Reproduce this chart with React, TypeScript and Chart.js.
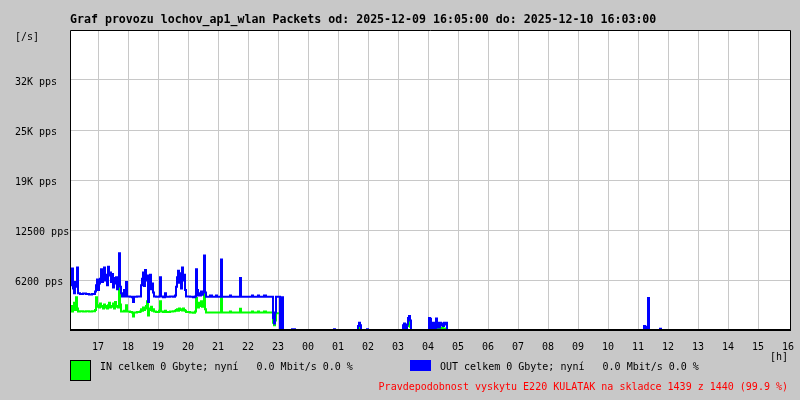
import React, { useEffect, useRef } from "react";
import { Chart, registerables } from "chart.js";

Chart.register(...registerables);

const TITLE = "Graf provozu lochov_ap1_wlan Packets od: 2025-12-09 16:05:00 do: 2025-12-10 16:03:00";
const Y_UNIT = "[/s]";
const X_UNIT = "[h]";
const IN_LEGEND = "IN celkem 0 Gbyte; nyní   0.0 Mbit/s 0.0 %";
const OUT_LEGEND = "OUT celkem 0 Gbyte; nyní   0.0 Mbit/s 0.0 %";
const FOOTER = "Pravdepodobnost vyskytu E220 KULATAK na skladce 1439 z 1440 (99.9 %)";

// time in minutes since 2025-12-09 16:00; each value holds until the next time
const times = [
  4, 6, 8, 10, 12, 14, 16, 18, 20, 24, 30, 36, 42, 48, 54, 56, 58, 60, 62, 64,
  66, 68, 70, 72, 74, 76, 78, 80, 82, 84, 86, 88, 90, 92, 94, 96, 98, 100, 102, 104,
  106, 108, 112, 114, 116, 118, 124, 128, 130, 132, 138, 144, 146, 148, 150, 152, 154, 156, 158, 160,
  162, 164, 166, 168, 170, 172, 176, 182, 184, 186, 190, 194, 196, 204, 210, 214, 216, 218, 220, 222,
  224, 226, 228, 230, 232, 234, 236, 244, 250, 254, 256, 258, 260, 262, 264, 266, 268, 270, 272, 274,
  276, 284, 288, 296, 298, 306, 308, 324, 326, 344, 346, 368, 370, 380, 382, 392, 396, 410, 412, 414,
  416, 424, 428, 430, 448, 454, 532, 534, 580, 582, 584, 586, 598, 600, 670, 672, 674, 678, 680, 682,
  684, 686, 722, 724, 726, 728, 730, 732, 736, 738, 740, 744, 746, 748, 750, 752, 754, 756, 758, 1152,
  1154, 1156, 1160, 1162, 1184, 1186, 1444,
];

const inPps = [
  2600, 3000, 2300, 2800, 3400, 2500, 4100, 2700, 2300, 2350, 2300, 2350, 2300, 2350, 2500, 4100, 2900, 3100, 2800, 3300,
  2900, 3000, 2700, 3200, 2800, 3000, 2700, 3100, 3400, 2800, 3000, 2900, 3300, 2700, 3500, 2900, 3000, 2800, 5200, 3200,
  2300, 2300, 2400, 2300, 3100, 2300, 2250, 2200, 1700, 2200, 2250, 2300, 2600, 2400, 2800, 2500, 2700, 3000, 3600, 1800,
  2700, 2500, 2900, 2400, 2600, 2300, 2250, 2400, 3600, 2300, 2250, 2400, 2250, 2300, 2350, 2400, 2500, 2600, 2400, 2700,
  2500, 2600, 2450, 2700, 2500, 2400, 2250, 2200, 2150, 2300, 4000, 3300, 2800, 3400, 3000, 3600, 2900, 3300, 4600, 2600,
  2200, 2200, 2200, 2200, 2200, 4000, 2200, 2300, 2200, 2650, 2200, 2300, 2200, 2300, 2200, 2300, 2200, 900, 600, 1200,
  2100, 400, 300, 0, 0, 0, 0, 0, 300, 500, 200, 0, 0, 0, 200, 400, 0, 500, 1100, 800,
  400, 0, 0, 200, 0, 100, 200, 0, 700, 300, 0, 200, 100, 300, 0, 200, 0, 100, 0, 0,
  300, 0, 500, 0, 0, 0, 0,
];

const outPps = [
  5600, 6800, 7700, 5200, 4600, 6000, 5400, 7800, 4600, 4500, 4550, 4500, 4450, 4500, 4800, 5600, 6300, 5000, 5800, 6400,
  7600, 6000, 7400, 7800, 6200, 6900, 5600, 7900, 6800, 7200, 6000, 7000, 5300, 6500, 5800, 6600, 5100, 5600, 9600, 5400,
  4600, 4200, 5000, 4200, 6000, 4200, 4150, 4100, 3500, 4150, 4200, 4200, 5600, 6400, 7200, 5500, 7500, 6200, 6800, 3500,
  5800, 6900, 5100, 5800, 4700, 4200, 4150, 4200, 6600, 4200, 4100, 4600, 4150, 4200, 4150, 4300, 5400, 6600, 7400, 5900,
  7100, 5200, 7800, 6200, 6900, 5000, 4200, 4150, 4100, 4200, 7600, 5000, 4300, 4600, 4300, 4800, 4400, 4700, 9300, 4700,
  4170, 4300, 4170, 4300, 4170, 8800, 4170, 4300, 4170, 6500, 4170, 4300, 4170, 4300, 4170, 4300, 4170, 1500, 800, 2200,
  4170, 0, 4100, 0, 100, 0, 100, 0, 500, 900, 600, 0, 100, 0, 600, 800, 0, 700, 1500, 1750,
  1200, 0, 1500, 1400, 0, 500, 900, 0, 1450, 900, 300, 900, 600, 800, 500, 900, 700, 900, 0, 500,
  400, 0, 4000, 0, 150, 0, 0,
];

const xTickMinutes = [60, 120, 180, 240, 300, 360, 420, 480, 540, 600, 660, 720, 780, 840, 900, 960, 1020, 1080, 1140, 1200, 1260, 1320, 1380, 1440];
const xTickLabels = ["17", "18", "19", "20", "21", "22", "23", "00", "01", "02", "03", "04", "05", "06", "07", "08", "09", "10", "11", "12", "13", "14", "15", "16"];
const yTickValues = [0, 6250, 12500, 18750, 25000, 31250, 37500];
const yTickLabels = ["", "6200 pps", "12500 pps", "19K pps", "25K pps", "32K pps", ""];

const X_MIN = 4;
const X_MAX = 1444;
const Y_MAX = 37500;

const MONO = "'DejaVu Sans Mono', 'Liberation Mono', monospace";
const BG = "#c8c8c8";
const GRID = "#c8c8c8";
const IN_COLOR = "#00ff00";
const OUT_COLOR = "#0000ff";

const areaPlugin = {
  id: "areaPlugin",
  beforeDraw(chart: any) {
    const { ctx, chartArea: a } = chart;
    ctx.save();
    ctx.fillStyle = "#ffffff";
    ctx.fillRect(a.left, a.top, a.right - a.left, a.bottom - a.top);
    ctx.restore();
  },
  afterDatasetsDraw(chart: any) {
    const { ctx, chartArea: a } = chart;
    ctx.save();
    ctx.strokeStyle = "#000000";
    ctx.lineWidth = 1;
    ctx.beginPath();
    ctx.moveTo(a.left + 0.5, a.bottom);
    ctx.lineTo(a.left + 0.5, a.top + 0.5);
    ctx.lineTo(a.right + 0.5, a.top + 0.5);
    ctx.lineTo(a.right + 0.5, a.bottom);
    ctx.stroke();
    ctx.fillStyle = "#000000";
    ctx.fillRect(a.left, a.bottom - 1, a.right - a.left + 1, 2);
    ctx.restore();
  },
};

export default function App() {
  const canvasRef = useRef<HTMLCanvasElement | null>(null);

  useEffect(() => {
    if (!canvasRef.current) return;
    const outData = times.map((t, i) => ({ x: t, y: outPps[i] }));
    const inData = times.map((t, i) => ({ x: t, y: inPps[i] }));
    const chart = new Chart(canvasRef.current, {
      type: "line",
      data: {
        datasets: [
          {
            label: "OUT",
            data: outData,
            borderColor: OUT_COLOR,
            backgroundColor: OUT_COLOR,
            borderWidth: 2,
            pointRadius: 0,
            stepped: true,
            fill: false,
          },
          {
            label: "IN",
            data: inData,
            borderColor: IN_COLOR,
            backgroundColor: IN_COLOR,
            borderWidth: 2,
            pointRadius: 0,
            stepped: true,
            fill: false,
          },
        ],
      },
      options: {
        animation: false,
        responsive: false,
        devicePixelRatio: 1,
        parsing: false,
        layout: { padding: { left: 15, top: 30, right: 10, bottom: 0 } },
        plugins: {
          legend: { display: false },
          tooltip: { enabled: false },
          title: { display: false },
        },
        scales: {
          x: {
            type: "linear",
            min: X_MIN,
            max: X_MAX,
            afterBuildTicks: (s: any) => {
              s.ticks = xTickMinutes.map((v) => ({ value: v }));
            },
            afterFit: (s: any) => {
              s.height = 70;
              s.paddingLeft = 0;
              s.paddingRight = 0;
            },
            ticks: {
              autoSkip: false,
              maxRotation: 0,
              padding: 11,
              color: "#000000",
              font: { family: MONO, size: 10 },
              callback: (v: any) => {
                const i = xTickMinutes.indexOf(Number(v));
                return i >= 0 ? xTickLabels[i] : "";
              },
            },
            grid: {
              drawTicks: false,
              lineWidth: 1,
              color: (c: any) => (c.tick && c.tick.value === X_MAX - 4 ? "rgba(0,0,0,0)" : GRID),
            },
            border: { display: false },
          },
          y: {
            type: "linear",
            min: 0,
            max: Y_MAX,
            afterBuildTicks: (s: any) => {
              s.ticks = yTickValues.map((v) => ({ value: v }));
            },
            afterFit: (s: any) => {
              s.width = 55;
              s.paddingTop = 0;
              s.paddingBottom = 0;
            },
            ticks: {
              crossAlign: "far",
              labelOffset: 2,
              padding: 0,
              color: "#000000",
              font: { family: MONO, size: 10 },
              callback: (v: any) => {
                const i = yTickValues.indexOf(Number(v));
                return i >= 0 ? yTickLabels[i] : "";
              },
            },
            grid: { drawTicks: false, lineWidth: 1, color: GRID },
            border: { display: false },
          },
        },
      } as any,
      plugins: [areaPlugin],
    });
    return () => chart.destroy();
  }, []);

  const text: React.CSSProperties = {
    position: "absolute",
    fontFamily: MONO,
    fontSize: "10px",
    lineHeight: "12px",
    whiteSpace: "pre",
    color: "#000000",
  };

  return (
    <div style={{ position: "absolute", left: 0, top: 0, width: 800, height: 400, background: BG, overflow: "hidden" }}>
      <canvas ref={canvasRef} width={800} height={400} style={{ position: "absolute", left: 0, top: 0, width: 800, height: 400 }} />
      <div style={{ ...text, left: 70, top: 12, fontSize: "11.6px", lineHeight: "14px", fontWeight: "bold" }}>{TITLE}</div>
      <div style={{ ...text, left: 15, top: 31 }}>{Y_UNIT}</div>
      <div style={{ ...text, left: 770, top: 351 }}>{X_UNIT}</div>
      <div style={{ position: "absolute", left: 70, top: 360, width: 19, height: 19, background: IN_COLOR, border: "1px solid #000" }} />
      <div style={{ ...text, left: 100, top: 361 }}>{IN_LEGEND}</div>
      <div style={{ position: "absolute", left: 410, top: 360, width: 21, height: 11, background: OUT_COLOR }} />
      <div style={{ ...text, left: 440, top: 361 }}>{OUT_LEGEND}</div>
      <div style={{ ...text, left: 0, width: 788, textAlign: "right", top: 381, color: "#ff0000" }}>{FOOTER}</div>
    </div>
  );
}
